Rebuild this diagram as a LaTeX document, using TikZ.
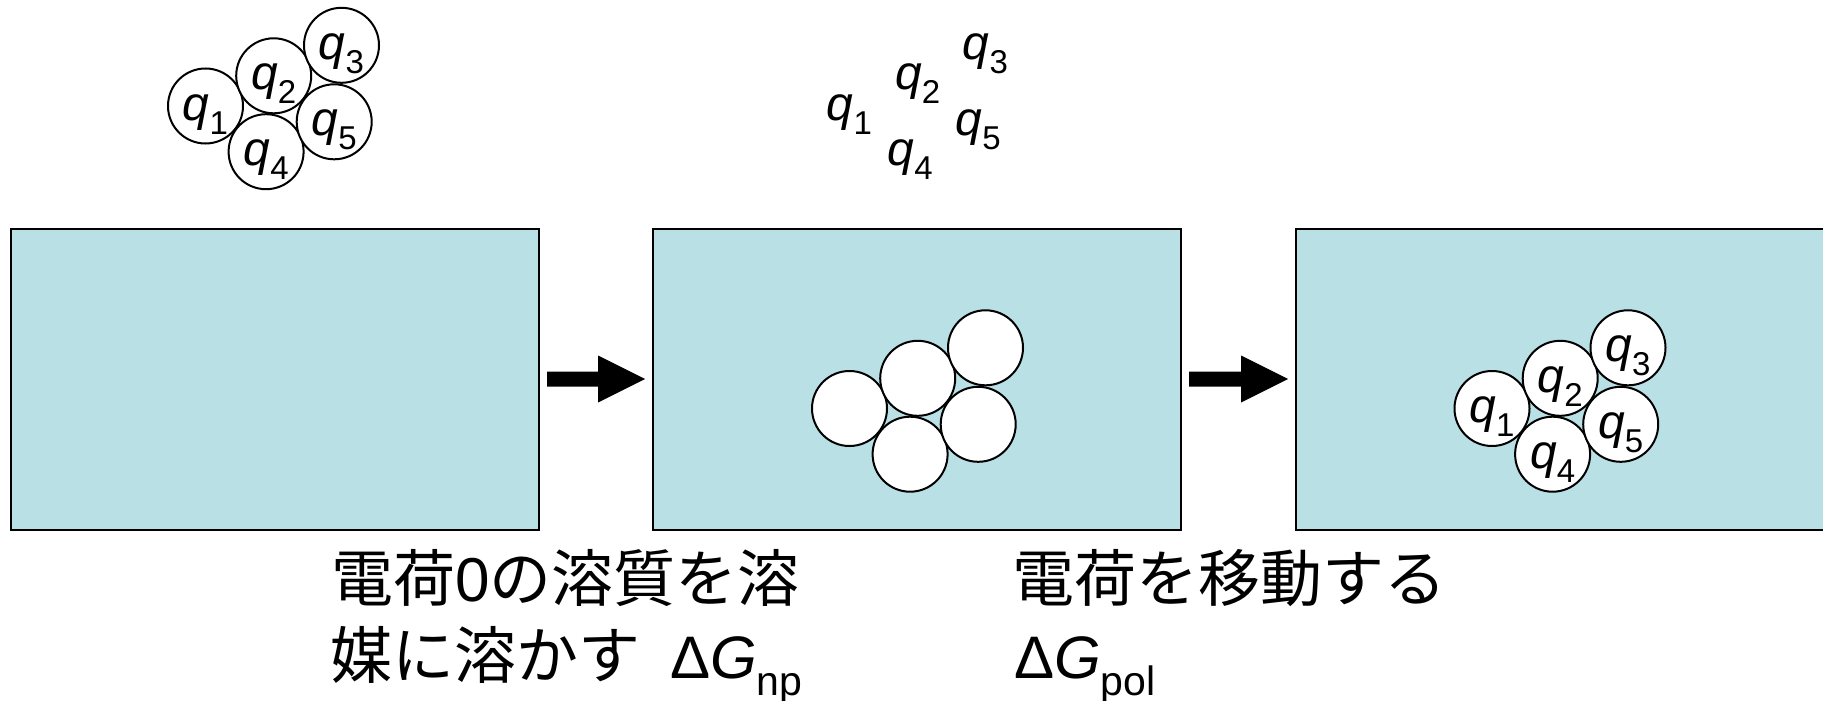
\documentclass[tikz,border=0pt]{standalone}
\usepackage{fontspec}
\setmainfont{Liberation Sans}
\newfontfamily\jpfont{Noto Sans CJK JP}
\usetikzlibrary{calc}
\definecolor{solvent}{RGB}{185,224,228}

% charge label q_i and free-energy symbols
\newcommand{\qsub}[1]{\textit{q}\raisebox{-14pt}{\fontsize{33}{33}\selectfont #1}}
\newcommand{\dGsub}[1]{{\fontsize{60}{60}\selectfont Δ\textit{G}}\raisebox{-17pt}{\fontsize{41}{41}\selectfont #1}}

\tikzset{
  box/.style={draw=black, line width=2pt, fill=solvent, inner sep=0pt, outer sep=0pt,
    minimum height=301pt, anchor=north west},
  ball/.style={circle, draw=black, line width=2pt, fill=white, minimum size=75pt, inner sep=0pt},
  ghost/.style={circle, minimum size=75pt, inner sep=0pt},
  qtext/.style={font=\fontsize{48}{48}\selectfont, anchor=base, inner sep=0pt},
  caption/.style={font=\fontsize{62}{62}\selectfont\jpfont, anchor=base west, inner sep=0pt},
  pics/mol/.style={code={
    \foreach \i/\dx/\dy in {1/0/0, 2/68.2/-30.2, 3/136/-60.7, 4/60.6/45.7, 5/128.7/15.8}
      \node[#1] (-c\i) at (\dx,\dy) {};
  }}
}

% block arrow between two points on a horizontal line
\newcommand{\blockarrow}[2]{%
  \fill[black] ($(#1)+(0,-7.5)$) -- ($(#2)+(-47,-7.5)$) -- ($(#2)+(-47,-23.5)$) -- (#2)
    -- ($(#2)+(-47,23.5)$) -- ($(#2)+(-47,7.5)$) -- ($(#1)+(0,7.5)$) -- cycle;}

\begin{document}
\begin{tikzpicture}[x=1pt, y=-1pt]
\useasboundingbox (0,0) rectangle (1823,701);

% solvent boxes
\node[box, minimum width=528pt] (b1) at (11,228.5) {};
\node[box, minimum width=528pt] (b2) at (653,228.5) {};
\node[box, minimum width=600pt] (b3) at (1296,228.5) {};

% arrows between the stages
\coordinate (a1s) at ($(b1.east)+(8,0)$);
\coordinate (a1e) at ($(b2.west)+(-8,0)$);
\coordinate (a2s) at ($(b2.east)+(8,0)$);
\coordinate (a2e) at ($(b3.west)+(-8,0)$);
\blockarrow{a1s}{a1e}
\blockarrow{a2s}{a2e}

% solute in vacuum
\pic (m1) at (205.5,106) {mol=ball};
% charges alone
\pic (m2) at (849.5,106) {mol=ghost};
% uncharged solute in solvent
\pic (m3) at (849.5,408.5) {mol=ball};
% charged solute in solvent
\pic (m4) at (1492,408.5) {mol=ball};

\foreach \m in {m1,m2,m4}
  \foreach \i in {1,...,5}
    \node[qtext] (\m-l\i) at ([yshift=-14pt]\m-c\i.center) {\qsub{\i}};

% captions
\node[caption] (t1a) at (331,601) {電荷{\rmfamily 0}の溶質を溶};
\node[caption] (t1b) at (330,678) {媒に溶かす\hspace{30pt}{\rmfamily\dGsub{np}}};
\node[caption] (t2a) at (1012,601) {電荷を移動する};
\node[caption] (t2b) at (1014,678) {\rmfamily\dGsub{pol}};
\end{tikzpicture}
\end{document}
